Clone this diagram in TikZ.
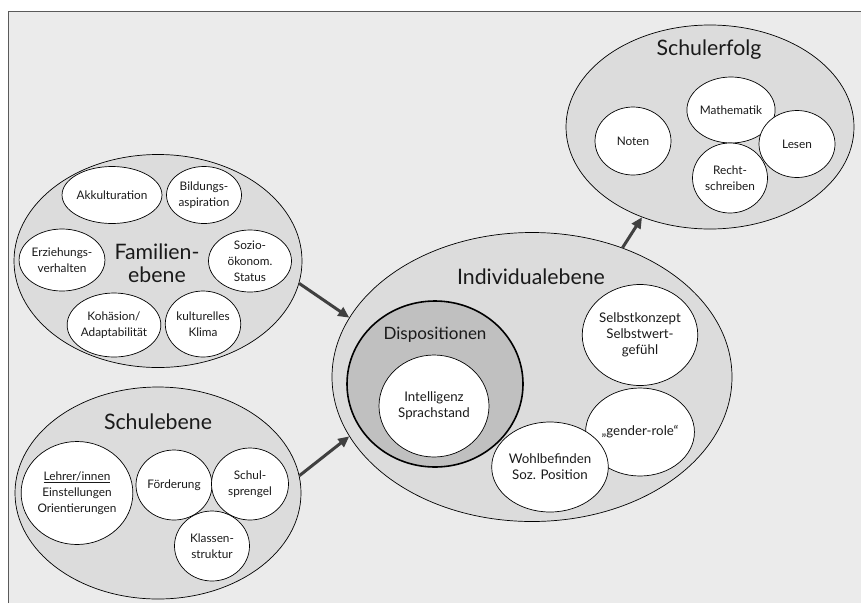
\documentclass[tikz,border=0pt]{standalone}
\usepackage{fontspec}
\setmainfont{Lato}
\usepackage{tikz}
\usetikzlibrary{shapes.geometric, arrows.meta}
\definecolor{bggray}{HTML}{EBEBEB}
\definecolor{levelgray}{HTML}{DCDCDC}
\definecolor{dispogray}{HTML}{C0C0C0}
\definecolor{framegray}{HTML}{5A5A5A}
\definecolor{arrowgray}{HTML}{404040}
\definecolor{textdark}{HTML}{1A1A1A}

\begin{document}
\begin{tikzpicture}[
    x=1pt, y=-1pt,
    level/.style={
      ellipse, draw=black, line width=0.7pt, fill=levelgray,
      inner sep=0pt
    },
    item/.style={
      ellipse, draw=black, line width=0.7pt, fill=white, text=textdark,
      inner sep=0pt, align=center, font=\fontsize{11.8}{16}\selectfont
    },
    inditem/.style={item, font=\fontsize{13.3}{16}\selectfont},
    title/.style={text=textdark, align=center, font=\fontsize{21.3}{23}\selectfont},
    arr/.style={-{Triangle[length=11pt, width=10pt]}, arrowgray, line width=3pt},
  ]
  \useasboundingbox (0,0) rectangle (861,603);
  \fill[bggray] (8.5,11.5) rectangle (861,603);
  \draw[framegray, line width=1.5pt] (8.5,603) -- (8.5,11.5) -- (861,11.5);

  % Familienebene
  \node[level, minimum width=288pt, minimum height=213pt] (fam) at (158,261) {};
  \node[title] (famlabel) at (157,263) {Familien-\\ebene};
  \node[item, minimum width=79pt, minimum height=57pt] (akk) at (112,195) {Akkulturation};
  \node[item, minimum width=75pt, minimum height=57pt] (bild) at (204,195) {Bildungs-\\aspiration};
  \node[item, minimum width=81pt, minimum height=62pt] (erz) at (62,260) {Erziehungs-\\verhalten};
  \node[item, minimum width=83pt, minimum height=62pt] (sozio) at (250,261) {Sozio-\\ökonom.\\Status};
  \node[item, minimum width=76pt, minimum height=64pt] (koh) at (114,325) {Kohäsion/\\Adaptabilität};
  \node[item, minimum width=73pt, minimum height=66pt] (klima) at (203,324) {kulturelles\\Klima};

  % Schulebene
  \node[level, minimum width=286pt, minimum height=212pt] (schul) at (158,493) {};
  \node[title] (schullabel) at (158,422) {Schulebene};
  \node[item, minimum width=101pt, minimum height=103pt] (lehrer) at (77,493)
    {\underline{Lehrer/innen}\\Einstellungen\\Orientierungen};
  \node[item, minimum width=76pt, minimum height=70pt] (foerd) at (174,485) {Förderung};
  \node[item, minimum width=77pt, minimum height=72pt] (sprengel) at (250,484) {Schul-\\sprengel};
  \node[item, minimum width=75pt, minimum height=70pt] (klassen) at (212,546) {Klassen-\\struktur};

  % Individualebene
  \node[level, minimum width=400pt, minimum height=289pt] (ind) at (532,377) {};
  \node[title] (indlabel) at (531,277) {Individualebene};
  \node[level, fill=dispogray, line width=1.6pt, minimum width=176pt, minimum height=166pt] (dispo) at (435,384) {};
  \node[title, font=\fontsize{17}{19}\selectfont] (dispolabel) at (435,335) {Dispositionen};
  \node[inditem, minimum width=110pt, minimum height=102pt] (intel) at (434,406) {Intelligenz\\Sprachstand};
  \node[inditem, minimum width=107pt, minimum height=101pt] (selbst) at (640,335) {Selbstkonzept\\Selbstwert-\\gefühl};
  \node[inditem, minimum width=96pt, minimum height=88pt] (gender) at (640,432) {„gender-role“};
  \node[inditem, minimum width=96pt, minimum height=90pt] (wohl) at (550,467) {Wohlbefinden\\Soz. Position};

  % Schulerfolg
  \node[level, minimum width=288pt, minimum height=204pt] (erfolg) at (710,127) {};
  \node[title] (erfolglabel) at (709,50) {Schulerfolg};
  \node[item, minimum width=76pt, minimum height=68pt] (noten) at (633,141) {Noten};
  \node[item, minimum width=76pt, minimum height=66pt] (mathe) at (731,110) {Mathematik};
  \node[item, minimum width=76pt, minimum height=67pt] (lesen) at (797,144) {Lesen};
  \node[item, minimum width=75pt, minimum height=70pt] (recht) at (730,178) {Recht-\\schreiben};

  \draw[arr] (fam.-9) -- (ind.162);
  \draw[arr] (schul.7) -- (ind.-162);
  \draw[arr] (ind.55) -- (erfolg.233);
\end{tikzpicture}
\end{document}
